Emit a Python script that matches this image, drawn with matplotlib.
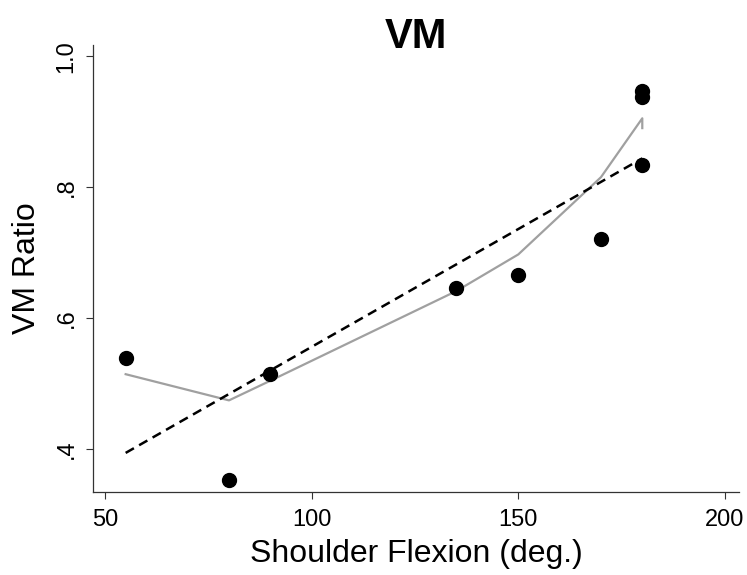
import numpy as np
import matplotlib
matplotlib.use("Agg")
import matplotlib.pyplot as plt

plt.rcParams['font.family'] = ['Liberation Sans', 'DejaVu Sans']

# measured points
flexion = [55, 80, 90, 135, 150, 170, 180, 180, 180]
vm_ratio = [0.539, 0.353, 0.515, 0.645, 0.665, 0.720, 0.833, 0.938, 0.946]

# lowess curve
lowess_x = [55, 80, 90, 135, 150, 170, 180, 180]
lowess_y = [0.514, 0.474, 0.504, 0.641, 0.697, 0.815, 0.905, 0.890]

yticks = [0.4, 0.6, 0.8, 1.0]
ytick_labels = ['.4', '.6', '.8', '1.0']
xticks = [50, 100, 150, 200]


def main():
    fig = plt.figure(figsize=(7.47, 5.75), dpi=100)
    ax = fig.add_axes([93 / 747, 1 - 492 / 575, (739 - 93) / 747, (492 - 45) / 575])

    x = np.array(flexion)
    y = np.array(vm_ratio)
    k, b = np.polyfit(x, y, 1)
    xf = np.array([x.min(), x.max()])

    ax.plot(lowess_x, lowess_y, color='#a0a0a0', lw=1.6, zorder=2)
    ax.plot(xf, k * xf + b, color='black', lw=1.8, dashes=(3.8, 2.4), zorder=3)
    ax.plot(x, y, 'o', color='black', markersize=10, zorder=4)

    ax.set_xlim(47.1, 203.4)
    ax.set_ylim(0.334, 1.017)
    ax.set_xticks(xticks)
    ax.set_yticks(yticks)
    ax.set_yticklabels(ytick_labels, rotation=90, va='center')
    ax.tick_params(axis='x', labelsize=17, length=5, width=0.8, pad=7, color='#333333')
    ax.tick_params(axis='y', labelsize=17, length=5, width=0.8, pad=6, color='#333333')

    for s in ['top', 'right']:
        ax.spines[s].set_visible(False)
    for s in ['left', 'bottom']:
        ax.spines[s].set_linewidth(0.9)
        ax.spines[s].set_color('#333333')

    ax.set_xlabel('Shoulder Flexion (deg.)', fontsize=23, labelpad=6)
    ax.set_ylabel('VM Ratio', fontsize=23, labelpad=10)
    fig.text(416 / 747, 1 - 48 / 575, 'VM', fontsize=30, fontweight='bold',
             ha='center', va='baseline')

    fig.savefig('out.png', dpi=100)


if __name__ == "__main__":
    main()
